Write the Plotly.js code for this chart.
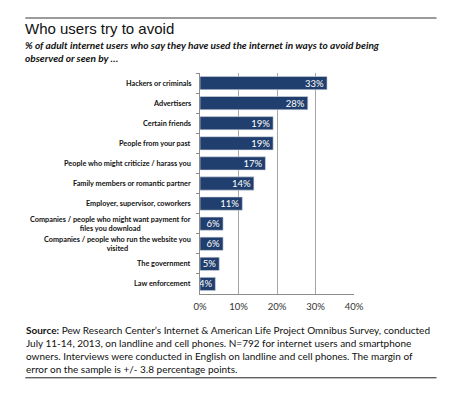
<!DOCTYPE html>
<html>
<head>
<meta charset="utf-8">
<script src="https://cdn.plot.ly/plotly-3.0.1.min.js"></script>
<style>html,body{margin:0;padding:0;background:#fff;}#chart{width:453px;height:399px;}</style>
</head>
<body>
<div id="chart"></div>
<script>
var categories = [
  "Hackers or criminals",
  "Advertisers",
  "Certain friends",
  "People from your past",
  "People who might criticize / harass you",
  "Family members or romantic partner",
  "Employer, supervisor, coworkers",
  "Companies / people who might want payment for<br>files you download",
  "Companies / people who run the website you<br>visited",
  "The government",
  "Law enforcement"
];
var values = [33, 28, 19, 19, 17, 14, 11, 6, 6, 5, 4];
var valueLabels = ["33%", "28%", "19%", "19%", "17%", "14%", "11%", "6%", "6%", "5%", "4%"];
var tickVals = [0, 10, 20, 30, 40];
var tickText = ["0%", "10%", "20%", "30%", "40%"];
var titleText = "Who users try to avoid";
var subtitleLines = [
  "% of adult internet users who say they have used the internet in ways to avoid being",
  "observed or seen by \u2026"
];
var sourceLines = [
  "<b>Source:</b> Pew Research Center\u2019s Internet & American Life Project Omnibus Survey, conducted",
  "July 11-14, 2013, on landline and cell phones. N=792 for internet users and smartphone",
  "owners. Interviews were conducted in English on landline and cell phones. The margin of",
  "error on the sample is +/- 3.8 percentage points."
];

// pixel geometry helpers
var W = 453, H = 399;
var L = 200, R = 354.3, T = 72.6, B = 294.4;
function px(x) { return (x - L) / (R - L); }
function py(y) { return (B - y) / (B - T); }

var annotations = [];
categories.forEach(function (c) {
  annotations.push({
    xref: 'paper', yref: 'y', x: px(193), y: c, text: c,
    xanchor: 'right', yanchor: 'middle', align: 'center', showarrow: false,
    font: {family: 'Lato', size: 7.3, color: '#111', weight: 'bold'}
  });
});
annotations.push({
  xref: 'paper', yref: 'paper', x: px(24), y: py(27.8), text: titleText,
  xanchor: 'left', yanchor: 'middle', showarrow: false, borderpad: 0,
  font: {family: 'Liberation Sans', size: 15, color: '#111'}
});
annotations.push({
  xref: 'paper', yref: 'paper', x: px(24), y: py(51.5),
  text: '<i><b>' + subtitleLines.join('<br>') + '</b></i>',
  xanchor: 'left', yanchor: 'middle', align: 'left', showarrow: false, borderpad: 0,
  font: {family: 'Lato', size: 10.1, color: '#111'}
});
annotations.push({
  xref: 'paper', yref: 'paper', x: px(24), y: py(350.5),
  text: sourceLines.join('<br>'),
  xanchor: 'left', yanchor: 'middle', align: 'left', showarrow: false,
  font: {family: 'Lato', size: 10, color: '#111'}
});

var shapes = [
  {type: 'line', xref: 'paper', yref: 'paper', x0: px(25), x1: px(437), y0: py(17.3), y1: py(17.3),
   line: {color: '#7a7a7a', width: 1.5}},
  {type: 'line', xref: 'paper', yref: 'paper', x0: px(25), x1: px(437), y0: py(378.5), y1: py(378.5),
   line: {color: '#222', width: 1}}
];

var trace = {
  type: 'bar', orientation: 'h',
  x: values, y: categories,
  text: valueLabels, textposition: 'inside', insidetextanchor: 'end',
  constraintext: 'none', cliponaxis: false,
  textfont: {family: 'Lato', size: 9.5, color: '#ffffff'},
  marker: {color: '#213f6e', line: {color: '#d6dbe3', width: 0.6}},
  hoverinfo: 'none'
};

var layout = {
  width: W, height: H,
  margin: {l: L, r: W - R, t: T, b: H - B, pad: 0},
  paper_bgcolor: '#ffffff', plot_bgcolor: '#ffffff',
  showlegend: false,
  bargap: 0.34,
  xaxis: {
    range: [0, 40], tickvals: tickVals, ticktext: tickText,
    showgrid: true, gridcolor: '#a6a6a6', gridwidth: 1,
    zeroline: false, showline: true, linecolor: '#8c8c8c', linewidth: 1,
    ticks: 'outside', ticklen: 4, tickcolor: 'rgba(0,0,0,0)',
    tickfont: {family: 'Lato', size: 9.5, color: '#333'},
    fixedrange: true
  },
  yaxis: {
    type: 'category', autorange: 'reversed',
    showticklabels: false, tickson: 'boundaries', ticks: 'outside', ticklen: 3,
    tickcolor: '#8c8c8c', showline: true, linecolor: '#8c8c8c', linewidth: 1,
    showgrid: false, zeroline: false, fixedrange: true
  },
  annotations: annotations,
  shapes: shapes
};

Plotly.newPlot('chart', [trace], layout, {displayModeBar: false, staticPlot: true});
</script>
</body>
</html>
